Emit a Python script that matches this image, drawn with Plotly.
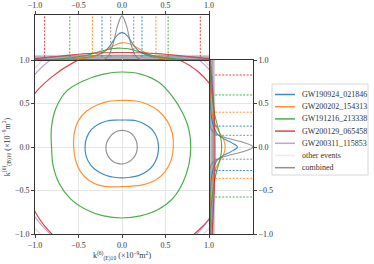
import plotly.graph_objects as go
import numpy as np

# ---------------- data ----------------
events = ["GW190924_021846", "GW200202_154313", "GW191216_213338",
          "GW200129_065458", "GW200311_115853"]
colors = ["rgba(31,119,180,0.85)", "rgba(255,127,14,0.85)", "rgba(44,160,44,0.85)",
          "rgba(214,39,40,0.85)", "rgba(148,103,189,0.6)"]
combined_color = "rgba(127,127,127,0.85)"
other_color = "rgba(140,140,140,0.22)"
legend_labels = events + ["other events", "combined"]
legend_colors = colors + ["rgba(200,200,200,0.35)", combined_color]

# 90% contours in polar form (angle in degrees, radius)
contour_angles = [0, 15, 30, 45, 60, 75, 90, 105, 120, 135, 150, 165,
                  180, 195, 210, 225, 240, 255, 270, 285, 300, 315, 330, 345]
contour_radius = {
    "GW190924_021846": [0.42, 0.415, 0.40, 0.37, 0.345, 0.32, 0.31, 0.32, 0.345, 0.375, 0.405, 0.42,
                        0.425, 0.425, 0.415, 0.395, 0.375, 0.36, 0.355, 0.36, 0.38, 0.40, 0.415, 0.42],
    "GW200202_154313": [0.59, 0.60, 0.60, 0.59, 0.57, 0.55, 0.535, 0.545, 0.56, 0.58, 0.585, 0.57,
                        0.555, 0.555, 0.555, 0.54, 0.51, 0.475, 0.455, 0.465, 0.50, 0.54, 0.57, 0.585],
    "GW191216_213338": [0.79, 0.795, 0.80, 0.82, 0.855, 0.865, 0.862, 0.865, 0.88, 0.905, 0.88, 0.84,
                        0.81, 0.82, 0.835, 0.84, 0.83, 0.82, 0.816, 0.82, 0.83, 0.83, 0.81, 0.795],
    "GW200129_065458": [1.28, 1.27, 1.25, 1.23, 1.19, 1.15, 1.13, 1.12, 1.12, 1.14, 1.18, 1.20,
                        1.22, 1.22, 1.23, 1.27, 1.30, 1.31, 1.32, 1.31, 1.30, 1.30, 1.30, 1.29],
    "GW200311_115853": [1.30, 1.32, 1.34, 1.34, 1.33, 1.32, 1.32, 1.30, 1.29, 1.30, 1.31, 1.31,
                        1.30, 1.29, 1.28, 1.29, 1.31, 1.32, 1.33, 1.33, 1.33, 1.31, 1.28, 1.29],
}
combined_radius = [0.175, 0.177, 0.18, 0.185, 0.19, 0.19, 0.19, 0.19, 0.185, 0.182, 0.18, 0.183,
                   0.185, 0.188, 0.19, 0.193, 0.195, 0.195, 0.195, 0.19, 0.185, 0.182, 0.18, 0.177]
other_radius = [
    [1.36, 1.37, 1.38, 1.37, 1.37, 1.39, 1.40, 1.38, 1.36, 1.35, 1.35, 1.36,
     1.37, 1.36, 1.36, 1.37, 1.39, 1.40, 1.41, 1.40, 1.38, 1.37, 1.37, 1.36],
    [1.45, 1.44, 1.43, 1.45, 1.46, 1.45, 1.44, 1.43, 1.42, 1.43, 1.44, 1.46,
     1.47, 1.46, 1.45, 1.44, 1.43, 1.45, 1.46, 1.45, 1.44, 1.44, 1.45, 1.45],
]

# marginal densities (normalised to combined peak) on a k grid
kgrid = [-1.0, -0.9, -0.8, -0.7, -0.6, -0.5, -0.4, -0.35, -0.3, -0.25, -0.2, -0.15, -0.1, -0.05,
         0.0, 0.05, 0.1, 0.15, 0.2, 0.25, 0.3, 0.35, 0.4, 0.5, 0.6, 0.7, 0.8, 0.9, 1.0]
top_density = {
    "GW190924_021846": [0, 0.001, 0.003, 0.007, 0.015, 0.03, 0.055, 0.075, 0.10, 0.14, 0.19, 0.29, 0.44, 0.57,
                        0.62, 0.57, 0.44, 0.29, 0.19, 0.14, 0.10, 0.075, 0.055, 0.03, 0.015, 0.007, 0.003, 0.001, 0],
    "GW200202_154313": [0.001, 0.002, 0.003, 0.006, 0.012, 0.025, 0.045, 0.065, 0.095, 0.142, 0.200, 0.261, 0.319, 0.364,
                        0.388, 0.385, 0.357, 0.309, 0.249, 0.187, 0.132, 0.09, 0.06, 0.025, 0.012, 0.006, 0.003, 0.001, 0.001],
    "GW191216_213338": [0.001, 0.003, 0.008, 0.025, 0.045, 0.075, 0.108, 0.137, 0.166, 0.196, 0.223, 0.245, 0.261, 0.269,
                        0.268, 0.259, 0.241, 0.217, 0.190, 0.160, 0.131, 0.103, 0.079, 0.055, 0.03, 0.015, 0.008, 0.003, 0.001],
    "GW200129_065458": [0.03, 0.05, 0.07, 0.09, 0.11, 0.13, 0.145, 0.15, 0.155, 0.159, 0.163, 0.166, 0.168, 0.17,
                        0.17, 0.17, 0.168, 0.166, 0.163, 0.159, 0.155, 0.15, 0.145, 0.13, 0.11, 0.09, 0.07, 0.05, 0.03],
    "GW200311_115853": [0.0, 0.04, 0.065, 0.08, 0.09, 0.095, 0.098, 0.099, 0.1, 0.1, 0.1, 0.1, 0.1, 0.1,
                        0.1, 0.1, 0.1, 0.1, 0.1, 0.1, 0.1, 0.099, 0.098, 0.095, 0.09, 0.08, 0.065, 0.04, 0.0],
}
top_combined = [0, 0, 0, 0, 0, 0, 0, 0, 0, 0.002, 0.021, 0.114, 0.381, 0.786,
                1.0, 0.786, 0.381, 0.114, 0.021, 0.002, 0, 0, 0, 0, 0, 0, 0, 0, 0]
right_density = {
    "GW190924_021846": [0, 0, 0.001, 0.003, 0.006, 0.012, 0.025, 0.035, 0.05, 0.075, 0.11, 0.17, 0.30, 0.50,
                        0.64, 0.50, 0.30, 0.17, 0.11, 0.075, 0.05, 0.035, 0.025, 0.012, 0.006, 0.003, 0.001, 0, 0],
    "GW200202_154313": [0.001, 0.001, 0.002, 0.005, 0.01, 0.022, 0.045, 0.065, 0.09, 0.13, 0.18, 0.24, 0.30, 0.34,
                        0.35, 0.34, 0.30, 0.24, 0.18, 0.13, 0.09, 0.065, 0.045, 0.022, 0.01, 0.005, 0.002, 0.001, 0.001],
    "GW191216_213338": [0.002, 0.005, 0.012, 0.025, 0.045, 0.07, 0.10, 0.12, 0.145, 0.17, 0.20, 0.23, 0.25, 0.265,
                        0.27, 0.265, 0.25, 0.23, 0.20, 0.17, 0.145, 0.12, 0.10, 0.07, 0.045, 0.025, 0.012, 0.005, 0.002],
    "GW200129_065458": [0.05, 0.06, 0.07, 0.08, 0.09, 0.10, 0.105, 0.108, 0.11, 0.112, 0.113, 0.114, 0.115, 0.115,
                        0.115, 0.114, 0.113, 0.112, 0.11, 0.107, 0.103, 0.10, 0.095, 0.085, 0.07, 0.05, 0.035, 0.02, 0.01],
    "GW200311_115853": [0.0, 0.03, 0.05, 0.065, 0.075, 0.08, 0.082, 0.083, 0.084, 0.085, 0.085, 0.085, 0.085, 0.085,
                        0.085, 0.085, 0.085, 0.085, 0.085, 0.085, 0.084, 0.083, 0.082, 0.08, 0.075, 0.065, 0.05, 0.03, 0.0],
}
right_combined = [0, 0, 0, 0, 0, 0, 0, 0, 0, 0.005, 0.03, 0.14, 0.41, 0.80,
                  1.0, 0.80, 0.41, 0.14, 0.03, 0.005, 0, 0, 0, 0, 0, 0, 0, 0, 0]
k_coarse = [-1.0, -0.5, 0.0, 0.5, 1.0]
other_levels = [
    [0.02, 0.025, 0.03, 0.025, 0.02],
    [0.035, 0.04, 0.045, 0.04, 0.035],
    [0.05, 0.055, 0.06, 0.055, 0.05],
    [0.06, 0.07, 0.07, 0.07, 0.06],
    [0.075, 0.08, 0.085, 0.08, 0.075],
    [0.085, 0.09, 0.095, 0.09, 0.085],
    [0.01, 0.015, 0.015, 0.015, 0.01],
]

# 90% credible bounds (dashed lines)
top_lo = {"GW190924_021846": -0.23, "GW200202_154313": -0.34, "GW191216_213338": -0.60, "GW200129_065458": -0.89}
top_hi = {"GW190924_021846": 0.23, "GW200202_154313": 0.39, "GW191216_213338": 0.53, "GW200129_065458": 0.90}
top_comb = [-0.13, 0.135]
right_lo = {"GW190924_021846": -0.27, "GW200202_154313": -0.36, "GW191216_213338": -0.575}
right_hi = {"GW190924_021846": 0.24, "GW200202_154313": 0.40, "GW191216_213338": 0.598, "GW200129_065458": 0.828}
right_comb = [-0.14, 0.134]

tick_vals = [-1.0, -0.5, 0.0, 0.5, 1.0]
tick_text = ["\u22121.0", "\u22120.5", "0.0", "0.5", "1.0"]

# ---------------- figure ----------------
W, H = 374, 264
def px_x(p): return p / W
def px_y(p): return 1 - p / H

FONT = "Liberation Serif"
TXT = "#333333"
fig = go.Figure()

def polar(r_list):
    a = np.deg2rad(contour_angles + [contour_angles[0]])
    r = np.array(r_list + [r_list[0]])
    return r * np.cos(a), r * np.sin(a)

for rr in other_radius:
    x, y = polar(rr)
    fig.add_trace(go.Scatter(x=x, y=y, mode="lines",
                             line=dict(color="rgba(150,150,150,0.3)", width=1.2, shape="spline"),
                             showlegend=False, hoverinfo="skip", xaxis="x", yaxis="y"))
for ev, c in zip(events, colors):
    x, y = polar(contour_radius[ev])
    fig.add_trace(go.Scatter(x=x, y=y, mode="lines", line=dict(color=c, width=1.2, shape="spline"),
                             name=ev, showlegend=False, xaxis="x", yaxis="y"))
x, y = polar(combined_radius)
fig.add_trace(go.Scatter(x=x, y=y, mode="lines", line=dict(color=combined_color, width=1.2, shape="spline"),
                         name="combined", showlegend=False, xaxis="x", yaxis="y"))

for lv in other_levels:
    fig.add_trace(go.Scatter(x=k_coarse, y=lv, mode="lines", line=dict(color=other_color, width=3, shape="spline"),
                             showlegend=False, xaxis="x2", yaxis="y2", hoverinfo="skip"))
    fig.add_trace(go.Scatter(x=lv, y=k_coarse, mode="lines", line=dict(color=other_color, width=3, shape="spline"),
                             showlegend=False, xaxis="x3", yaxis="y3", hoverinfo="skip"))
for ev, c in zip(events, colors):
    fig.add_trace(go.Scatter(x=kgrid, y=top_density[ev], mode="lines", line=dict(color=c, width=1.1, shape="spline"),
                             showlegend=False, xaxis="x2", yaxis="y2"))
    fig.add_trace(go.Scatter(x=right_density[ev], y=kgrid, mode="lines", line=dict(color=c, width=1.1, shape="spline"),
                             showlegend=False, xaxis="x3", yaxis="y3"))
fig.add_trace(go.Scatter(x=kgrid, y=top_combined, mode="lines", line=dict(color=combined_color, width=1.1, shape="spline"),
                         showlegend=False, xaxis="x2", yaxis="y2"))
fig.add_trace(go.Scatter(x=right_combined, y=kgrid, mode="lines", line=dict(color=combined_color, width=1.1, shape="spline"),
                         showlegend=False, xaxis="x3", yaxis="y3"))

# dashed credible-bound lines
shapes = []
color_of = dict(zip(events, colors))
DASH = "2px,1.5px"
for d in (top_lo, top_hi):
    for ev, v in d.items():
        shapes.append(dict(type="line", xref="x2", yref="y2 domain", x0=v, x1=v, y0=0.07, y1=1,
                           line=dict(color=color_of[ev], width=1, dash=DASH)))
for v in top_comb:
    shapes.append(dict(type="line", xref="x2", yref="y2 domain", x0=v, x1=v, y0=0.07, y1=1,
                       line=dict(color=combined_color, width=1, dash=DASH)))
for d in (right_lo, right_hi):
    for ev, v in d.items():
        shapes.append(dict(type="line", xref="x3 domain", yref="y3", x0=0.12, x1=1, y0=v, y1=v,
                           line=dict(color=color_of[ev], width=1, dash=DASH)))
for v in right_comb:
    shapes.append(dict(type="line", xref="x3 domain", yref="y3", x0=0.12, x1=1, y0=v, y1=v,
                       line=dict(color=combined_color, width=1, dash=DASH)))

# custom legend (compact, like the reference)
annotations = []
leg_left, leg_right, leg_top, leg_bot = 272, 368, 84, 175
shapes.append(dict(type="rect", xref="paper", yref="paper", x0=px_x(leg_left), x1=px_x(leg_right),
                   y0=px_y(leg_bot), y1=px_y(leg_top), line=dict(color="#d8d8d8", width=1), fillcolor="white",
                   layer="above"))
for i, (lab, c) in enumerate(zip(legend_labels, legend_colors)):
    yc = 94.5 + i * 12.2
    shapes.append(dict(type="line", xref="paper", yref="paper", x0=px_x(275), x1=px_x(295),
                       y0=px_y(yc), y1=px_y(yc), line=dict(color=c, width=1.5), layer="above"))
    annotations.append(dict(text=lab, xref="paper", yref="paper", x=px_x(300), y=px_y(yc),
                            xanchor="left", yanchor="middle", showarrow=False,
                            font=dict(family=FONT, size=8, color=TXT)))

axis_common = dict(showline=True, mirror=True, linecolor="#333", linewidth=1, zeroline=False,
                   tickfont=dict(family=FONT, size=8, color=TXT), ticklen=3,
                   tickcolor="#444", gridcolor="#e6e6e6", gridwidth=0.8)

main_x = [px_x(35), px_x(209)]
main_y = [px_y(234), px_y(60)]
top_y = [px_y(60), px_y(15)]
right_x = [px_x(210), px_x(253)]

title_x = "k<sup>(6)</sup><sub>(E)10</sub> (\u00d710<sup>\u22129</sup>m<sup>2</sup>)"
title_y = "k<sup>(6)</sup><sub>(B)10</sub> (\u00d710<sup>\u22129</sup>m<sup>2</sup>)"

fig.update_layout(
    template="none",
    width=W, height=H, margin=dict(l=0, r=0, t=0, b=0, pad=0),
    paper_bgcolor="white", plot_bgcolor="white",
    font=dict(family=FONT, size=8, color=TXT),
    showlegend=False,
    xaxis=dict(domain=main_x, anchor="y", range=[-1, 1], tickvals=tick_vals, ticktext=tick_text, ticks="outside",
               showgrid=True, title=dict(text=title_x, font=dict(family=FONT, size=8, color=TXT), standoff=1),
               **axis_common),
    yaxis=dict(domain=main_y, anchor="x", range=[-1, 1], tickvals=tick_vals, ticktext=tick_text, ticks="outside",
               showgrid=True, title=dict(text=title_y, font=dict(family=FONT, size=8, color=TXT), standoff=3),
               **axis_common),
    xaxis2=dict(domain=main_x, anchor="y2", range=[-1, 1], side="top", tickvals=tick_vals, ticktext=tick_text,
                ticks="outside", showgrid=True, **axis_common),
    yaxis2=dict(domain=top_y, anchor="x2", range=[0, 1.02], showticklabels=False, showgrid=False, ticks="",
                **axis_common),
    xaxis3=dict(domain=right_x, anchor="y3", range=[0, 1.0], showticklabels=False, showgrid=False, ticks="",
                **axis_common),
    yaxis3=dict(domain=main_y, anchor="x3", range=[-1, 1], side="right", tickvals=tick_vals, ticktext=tick_text,
                ticks="outside", showgrid=True, **axis_common),
    shapes=shapes,
    annotations=annotations,
)

fig.write_html("out.html", config={"displayModeBar": False},
               post_script="document.body.style.margin='0px';")
